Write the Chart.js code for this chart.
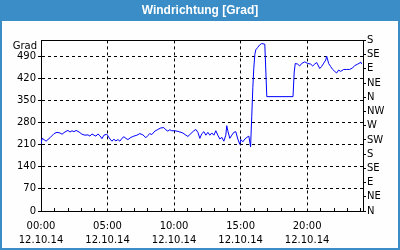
<!DOCTYPE html>
<html>
<head>
<meta charset="utf-8">
<script src="https://cdn.jsdelivr.net/npm/chart.js@4/dist/chart.umd.min.js"></script>
<style>
    html, body { margin: 0; padding: 0; background: #fff; }
    #wrap { width: 400px; height: 250px; }
</style>
</head>
<body>
<div id="wrap"><canvas id="windChart" width="400" height="250"></canvas></div>
<script>
// Messzeit in Stunden ab 00:00 (12.10.14) und Windrichtung in Grad
const stunden = [0.00,0.08,0.23,0.38,0.68,0.98,1.20,1.43,1.58,1.73,1.88,2.03,2.18,2.33,2.48,2.63,2.78,2.93,3.08,3.30,3.53,3.68,3.83,3.98,4.13,4.28,4.43,4.58,4.73,4.95,
    5.18,5.33,5.48,5.63,5.78,5.93,6.08,6.23,6.38,6.53,6.76,6.98,7.21,7.43,7.66,7.88,8.03,8.18,8.33,8.56,8.78,9.01,9.23,9.38,9.53,9.68,9.83,
    10.06,10.29,10.44,10.66,10.89,11.04,11.26,11.49,11.64,11.79,11.94,12.09,12.24,12.39,12.54,12.69,12.84,12.99,13.14,13.29,13.44,13.59,13.74,13.89,13.96,14.04,14.19,14.34,14.49,14.64,14.79,14.94,
    15.02,15.17,15.32,15.47,15.62,15.75,15.84,15.92,15.99,16.07,16.14,16.29,16.44,16.59,16.82,16.97,18.94,19.03,19.11,19.29,19.44,19.59,19.82,
    20.05,20.27,20.42,20.57,20.72,20.95,21.10,21.25,21.40,21.47,21.62,21.77,21.92,22.07,22.22,22.37,22.52,22.75,22.97,23.20,23.42,23.57,23.80,23.95,24.02,24.10];
const grad = [212,230,226,221,232,245,249,247,243,248,252,255,250,254,251,255,252,248,243,240,241,237,244,240,237,244,238,229,240,243,
    228,221,227,222,226,221,230,235,230,226,233,237,240,245,241,232,239,245,242,253,258,263,264,257,253,257,254,
    254,252,250,247,240,236,245,254,258,249,230,245,251,240,249,240,247,240,254,240,228,233,221,240,270,254,230,240,249,251,228,211,
    226,219,228,233,237,203,300,390,450,495,510,518,526,530,528,362,362,440,467,465,459,467,472,
    467,465,459,465,470,451,458,468,478,490,467,457,448,442,437,446,442,448,448,448,453,460,465,468,472,465];

const zeitLabels = ['00:00', '05:00', '10:00', '15:00', '20:00'];
const datum = '12.10.14';
// rechte Achse: alle 45 Grad eine Himmelsrichtung
const richtungen = ['N', 'NE', 'E', 'SE', 'S', 'SW', 'W', 'NW', 'N', 'NE', 'E', 'SE', 'S'];

const BLAU = '#3a8dc7';
const tickFont = { family: 'DejaVu Sans', size: 10 };

//hintergrund, titelbalken, rahmen, kleine stundenstriche
const rahmenPlugin = {
    id: 'rahmen',
    beforeDraw(chart) {
        const ctx = chart.ctx;
        ctx.save();
        ctx.fillStyle = '#fdfefd';
        ctx.fillRect(0, 0, chart.width, chart.height);
        ctx.fillStyle = BLAU;
        ctx.fillRect(0, 0, chart.width, 21);
        ctx.fillRect(0, 0, 2, chart.height);
        ctx.fillRect(chart.width - 2, 0, 2, chart.height);
        ctx.fillRect(0, chart.height - 2, chart.width, 2);
        ctx.restore();
    },
    afterDatasetsDraw(chart) {
        const ctx = chart.ctx;
        const area = chart.chartArea;
        const x = chart.scales.x;
        ctx.save();
        ctx.strokeStyle = '#000';
        ctx.lineWidth = 1;
        ctx.beginPath();
        ctx.moveTo(Math.round(area.left), Math.round(area.top) + 0.5);
        ctx.lineTo(Math.round(area.right) + 1, Math.round(area.top) + 0.5);
        for (let h = 1; h < 25; h++) {
            if (h % 5 === 0) continue;
            const px = Math.round(x.getPixelForValue(h)) + 0.5;
            ctx.moveTo(px, Math.round(area.bottom));
            ctx.lineTo(px, Math.round(area.bottom) - 3);
        }
        ctx.stroke();
        ctx.fillStyle = '#000';
        ctx.font = '10px "DejaVu Sans"';
        ctx.textAlign = 'right';
        ctx.textBaseline = 'middle';
        ctx.fillText('Grad', area.left - 4, area.top + 6);
        ctx.restore();
    }
};

const ctx = document.getElementById('windChart').getContext('2d');
const chart = new Chart(ctx, {
    type: 'line',
    data: {
        datasets: [{
            data: stunden.map((h, i) => ({ x: h, y: grad[i] })),
            borderColor: '#0000ff',
            borderWidth: 1,
            pointRadius: 0,
            tension: 0,
            yAxisID: 'y'
        }]
    },
    options: {
        responsive: false,
        animation: false,
        devicePixelRatio: 1,
        layout: { padding: 0 },
        plugins: {
            legend: { display: false },
            tooltip: { enabled: false },
            title: {
                display: true,
                text: 'Windrichtung [Grad]',
                color: '#ffffff',
                font: { family: 'Liberation Sans', size: 12, weight: 'bold' },
                padding: { top: 3, bottom: 23 }
            }
        },
        scales: {
            x: {
                type: 'linear',
                min: 0,
                max: 24.2,
                afterFit(scale) { scale.height = 39; },
                border: { color: '#000', width: 1, dash: [3, 3] },
                grid: { color: '#000', drawTicks: false },
                ticks: {
                    stepSize: 5,
                    includeBounds: false,
                    autoSkip: false,
                    maxRotation: 0,
                    padding: 8,
                    color: '#000',
                    font: { family: 'DejaVu Sans', size: 10, lineHeight: 1.4 },
                    callback: v => [zeitLabels[v / 5], datum]
                }
            },
            y: {
                position: 'left',
                min: 0,
                max: 540,
                afterFit(scale) { scale.width = 41; },
                border: { color: '#000', width: 1, dash: [3, 3] },
                grid: { color: '#000', tickLength: 3, tickColor: '#000' },
                ticks: {
                    stepSize: 70,
                    includeBounds: false,
                    autoSkip: false,
                    padding: 2,
                    color: '#000',
                    font: tickFont
                }
            },
            y2: {
                position: 'right',
                min: 0,
                max: 540,
                afterFit(scale) { scale.width = 37; },
                border: { color: '#000', width: 1 },
                grid: { drawOnChartArea: false, tickLength: 3, tickColor: '#000' },
                ticks: {
                    stepSize: 45,
                    autoSkip: false,
                    padding: 1,
                    color: '#000',
                    font: tickFont,
                    callback: v => richtungen[Math.round(v / 45)]
                }
            }
        }
    },
    plugins: [rahmenPlugin]
});
</script>
</body>
</html>
